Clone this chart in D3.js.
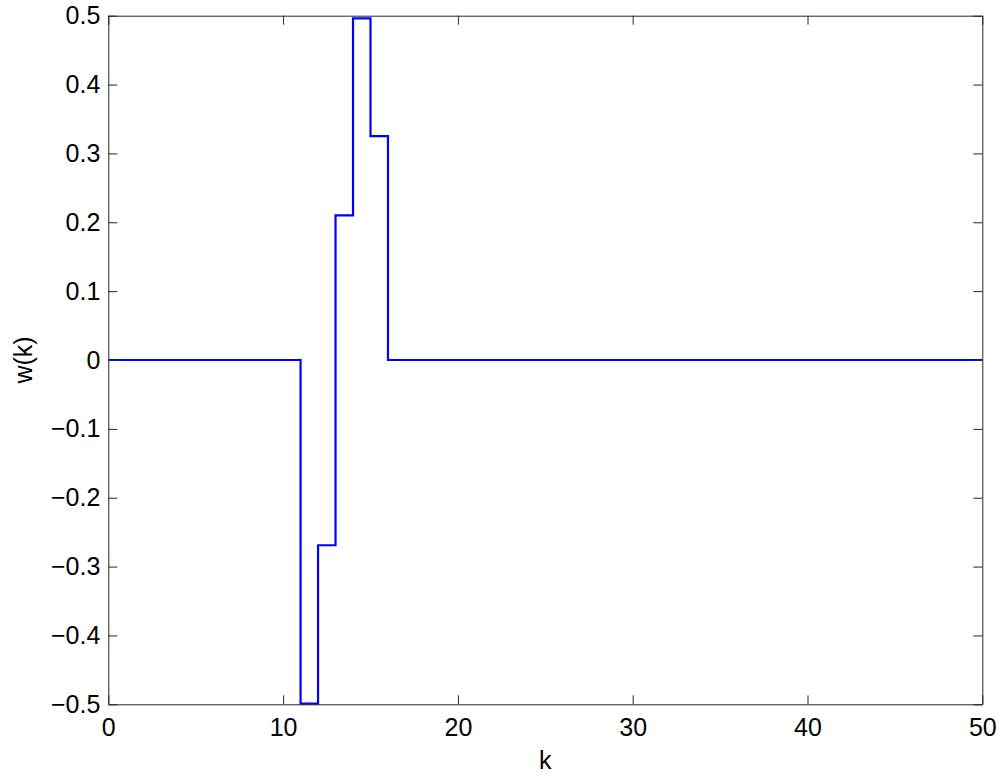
<!DOCTYPE html>
<html>
<head>
<meta charset="utf-8">
<script src="https://cdn.jsdelivr.net/npm/d3@7"></script>
<style>
  body { margin: 0; background: #fff; }
  svg text { font-family: "Liberation Sans", Arial, sans-serif; fill: #000; }
</style>
</head>
<body>
<div id="chart"></div>
<script>
/* data: w(k) for k = 0..50, drawn as stairs */
var k_Values = [0, 1, 2, 3, 4, 5, 6, 7, 8, 9, 10,
                11, 12, 13, 14, 15, 16, 17, 18, 19, 20,
                21, 22, 23, 24, 25, 26, 27, 28, 29, 30,
                31, 32, 33, 34, 35, 36, 37, 38, 39, 40,
                41, 42, 43, 44, 45, 46, 47, 48, 49, 50];
var w_Values = [0, 0, 0, 0, 0, 0, 0, 0, 0, 0, 0,
                -0.499, -0.269, 0.21, 0.496, 0.325, 0, 0, 0, 0, 0,
                0, 0, 0, 0, 0, 0, 0, 0, 0, 0,
                0, 0, 0, 0, 0, 0, 0, 0, 0, 0,
                0, 0, 0, 0, 0, 0, 0, 0, 0, 0];
var x_Ticks = [0, 10, 20, 30, 40, 50];
var y_Ticks = [-0.5, -0.4, -0.3, -0.2, -0.1, 0, 0.1, 0.2, 0.3, 0.4, 0.5];

var width = 1000, height = 779;
var margin = {left: 108.3, right: 17.7, top: 15.7, bottom: 74.7};
var plot_Width = width - margin.left - margin.right;
var plot_Height = height - margin.top - margin.bottom;
var font_Size = 25;

var svg = d3.select("#chart").append("svg")
            .attr("width", width)
            .attr("height", height);

var x = d3.scaleLinear().domain([0, 50]).range([0, plot_Width]);
var y = d3.scaleLinear().domain([-0.5, 0.5]).range([plot_Height, 0]);

var g = svg.append("g").attr("transform", "translate(" + margin.left + "," + margin.top + ")");

/* stairs line */
var points = k_Values.map(function(k, i){ return [k, w_Values[i]]; });
var line = d3.line()
             .x(function(d){ return x(d[0]); })
             .y(function(d){ return y(d[1]); })
             .curve(d3.curveStepAfter);

g.append("path")
 .datum(points)
 .attr("fill", "none")
 .attr("stroke", "#0000ff")
 .attr("stroke-width", 2.2)
 .attr("d", line);

/* axes: ticks pointing inward on all four sides */
var tick_Len = 9;
var axis_Colour = "#262626";

var bottom_Axis = g.append("g").attr("transform", "translate(0," + plot_Height + ")")
                   .call(d3.axisBottom(x).tickValues(x_Ticks).tickSizeInner(-tick_Len).tickSizeOuter(0).tickPadding(13.5));
var top_Axis = g.append("g")
                .call(d3.axisTop(x).tickValues(x_Ticks).tickSizeInner(-tick_Len).tickSizeOuter(0).tickFormat(""));
var left_Axis = g.append("g")
                 .call(d3.axisLeft(y).tickValues(y_Ticks).tickSizeInner(-tick_Len).tickSizeOuter(0).tickPadding(8)
                         .tickFormat(function(d){ return d === 0 ? "0" : d3.format(".1f")(d).replace("-", "\u2212"); }));
var right_Axis = g.append("g").attr("transform", "translate(" + plot_Width + ",0)")
                  .call(d3.axisRight(y).tickValues(y_Ticks).tickSizeInner(-tick_Len).tickSizeOuter(0).tickFormat(""));

[bottom_Axis, top_Axis, left_Axis, right_Axis].forEach(function(a){
    a.attr("font-size", font_Size).attr("font-family", "'Liberation Sans', Arial, sans-serif");
    a.select(".domain").attr("stroke", axis_Colour).attr("stroke-width", 1);
    a.selectAll(".tick line").attr("stroke", axis_Colour).attr("stroke-width", 1);
    a.selectAll(".tick text").attr("fill", "#000");
});

/* axis labels */
svg.append("text")
   .attr("x", margin.left + plot_Width / 2)
   .attr("y", 769)
   .attr("text-anchor", "middle")
   .attr("font-size", font_Size)
   .text("k");

svg.append("text")
   .attr("transform", "translate(31.5," + (margin.top + plot_Height / 2) + ") rotate(-90)")
   .attr("text-anchor", "middle")
   .attr("font-size", font_Size)
   .text("w(k)");
</script>
</body>
</html>
